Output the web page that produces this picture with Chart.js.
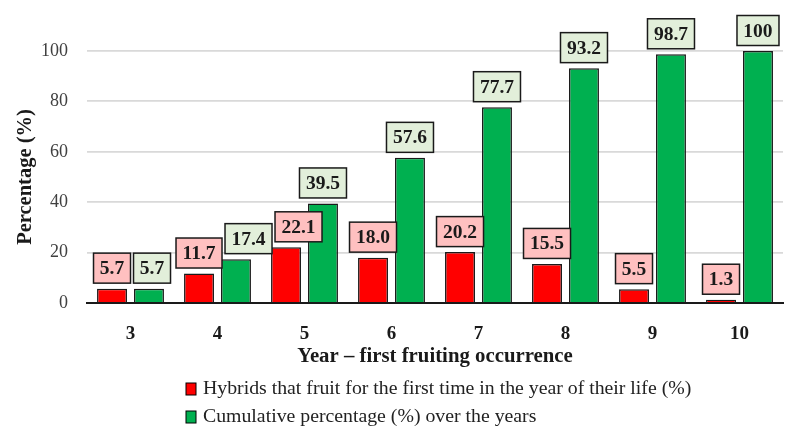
<!DOCTYPE html>
<html>
<head>
<meta charset="utf-8">
<script src="https://cdn.jsdelivr.net/npm/chart.js@4.4.0/dist/chart.umd.min.js"></script>
<style>
  html, body { margin: 0; padding: 0; background: #ffffff; }
  #wrap { width: 793px; height: 437px; position: relative; }
</style>
</head>
<body>
<div id="wrap"><canvas id="c" width="793" height="437"></canvas></div>
<script>
const categories = ['3', '4', '5', '6', '7', '8', '9', '10'];
const firstFruiting = [5.7, 11.7, 22.1, 18.0, 20.2, 15.5, 5.5, 1.3];
const cumulative = [5.7, 17.4, 39.5, 57.6, 77.7, 93.2, 98.7, 100];
const yTicks = [0, 20, 40, 60, 80, 100];
const seriesNames = [
  'Hybrids that fruit for the first time in the year of their life (%)',
  'Cumulative percentage (%) over the years'
];
const xTitle = 'Year \u2013 first fruiting occurrence';
const yTitle = 'Percentage (%)';

const FONT = '"Liberation Serif", "DejaVu Serif", serif';
const boxFills = ['#ffc0c0', '#e2efda'];

// Data-label boxes; a box that would collide with an already placed one
// is nudged to the right (as the spreadsheet program did).
const labelBoxes = {
  id: 'labelBoxes',
  afterDatasetsDraw(chart) {
    const ctx = chart.ctx;
    ctx.save();
    ctx.font = 'bold 19.5px ' + FONT;
    ctx.textAlign = 'center';
    ctx.textBaseline = 'middle';
    const items = [];
    chart.data.datasets.forEach((ds, di) => {
      const meta = chart.getDatasetMeta(di);
      meta.data.forEach((bar, i) => {
        const v = ds.data[i];
        const txt = v === 100 ? '100' : v.toFixed(1);
        const w = Math.round(ctx.measureText(txt).width + 13);
        const h = 30;
        items.push({ di, txt, w, h, x: bar.x - w / 2, y: bar.y - 5.5 - h });
      });
    });
    items.sort((a, b) => a.x - b.x);
    const placed = [];
    items.forEach(it => {
      placed.forEach(p => {
        const hOver = it.x < p.x + p.w && it.x + it.w > p.x;
        const vOver = it.y < p.y + p.h && it.y + it.h > p.y;
        if (hOver && vOver) it.x = p.x + p.w + 3;
      });
      placed.push(it);
    });
    placed.forEach(it => {
      ctx.fillStyle = boxFills[it.di];
      ctx.fillRect(it.x, it.y, it.w, it.h);
      ctx.lineWidth = 1.5;
      ctx.strokeStyle = '#1a1a1a';
      ctx.strokeRect(it.x, it.y, it.w, it.h);
      ctx.fillStyle = '#1a1a1a';
      ctx.fillText(it.txt, it.x + it.w / 2, it.y + it.h / 2 + 1);
    });
    ctx.restore();
  }
};

const customLegend = {
  id: 'customLegend',
  afterDraw(chart) {
    const ctx = chart.ctx;
    ctx.save();
    ctx.font = '19.8px ' + FONT;
    ctx.textAlign = 'left';
    ctx.textBaseline = 'middle';
    const rows = [389, 417];
    chart.data.datasets.forEach((ds, di) => {
      const cy = rows[di];
      ctx.fillStyle = ds.backgroundColor;
      ctx.fillRect(186, cy - 6, 10, 12);
      ctx.lineWidth = 1;
      ctx.strokeStyle = '#000000';
      ctx.strokeRect(186, cy - 6, 10, 12);
      ctx.fillStyle = '#222222';
      ctx.fillText(ds.label, 203, cy);
    });
    ctx.restore();
  }
};

new Chart(document.getElementById('c'), {
  type: 'bar',
  data: {
    labels: categories,
    datasets: [
      {
        label: seriesNames[0],
        data: firstFruiting,
        backgroundColor: '#ff0000',
        borderColor: '#1a1a1a',
        borderWidth: 1.5,
        categoryPercentage: 0.85,
        barPercentage: 0.81
      },
      {
        label: seriesNames[1],
        data: cumulative,
        backgroundColor: '#00b050',
        borderColor: '#1a1a1a',
        borderWidth: 1.5,
        categoryPercentage: 0.85,
        barPercentage: 0.81
      }
    ]
  },
  options: {
    responsive: false,
    animation: false,
    devicePixelRatio: 1,
    layout: { padding: { top: 51, right: 10, left: 0, bottom: 67.6 } },
    plugins: {
      legend: { display: false },
      tooltip: { enabled: false }
    },
    scales: {
      x: {
        afterFit(scale) { scale.height = 66.4; },
        grid: { display: false, drawTicks: false },
        border: { display: true, color: '#1a1a1a', width: 2 },
        ticks: {
          color: '#1a1a1a',
          font: { family: FONT, size: 19, weight: 'bold' },
          padding: 20
        },
        title: {
          display: true,
          text: xTitle,
          color: '#1a1a1a',
          font: { family: FONT, size: 20.8, weight: 'bold' },
          padding: { top: 2, bottom: 0 }
        }
      },
      y: {
        min: 0,
        max: 100,
        afterBuildTicks(scale) { scale.ticks = yTicks.map(v => ({ value: v })); },
        afterFit(scale) { scale.width = 87; },
        grid: { color: '#d9d9d9', lineWidth: 1.8, drawTicks: false },
        border: { display: false },
        ticks: {
          color: '#404040',
          font: { family: FONT, size: 18 },
          padding: 19
        },
        title: {
          display: true,
          text: yTitle,
          color: '#1a1a1a',
          font: { family: FONT, size: 20.5, weight: 'bold' },
          padding: { top: 13, bottom: 0 }
        }
      }
    }
  },
  plugins: [labelBoxes, customLegend]
});
</script>
</body>
</html>
